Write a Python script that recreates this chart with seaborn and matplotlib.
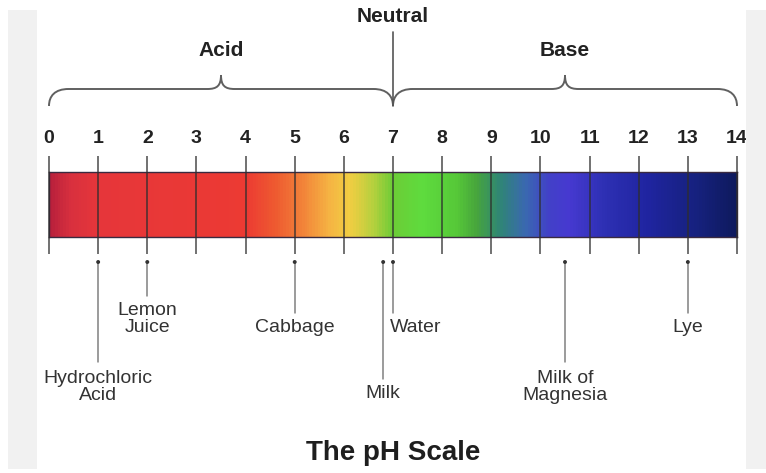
import numpy as np
import matplotlib
matplotlib.use("Agg")
import matplotlib.pyplot as plt
import seaborn as sns
from matplotlib.colors import LinearSegmentedColormap
from matplotlib.path import Path
from matplotlib.patches import PathPatch, Rectangle

# pH scale ticks
ph_ticks = list(range(0, 15))

# colour stops along the bar (pH, colour)
stop_ph = [0, 0.4, 1, 4, 4.6, 5.2, 5.7, 6.1, 6.6, 7.0, 7.6, 8.3, 8.7, 9.2, 9.7, 10.2, 10.6, 11.3, 12.2, 13.2, 14]
stop_colors = ['#b8203c', '#d8303e', '#e6363a', '#ec3a33', '#ee5a30', '#f2873a', '#f5b343',
               '#f2cd42', '#b6d03e', '#6ccc36', '#5edc3e', '#56c838', '#47a53c', '#2f8576',
               '#3a68b0', '#4240c8', '#4639d0', '#2e30b4', '#1f24a0', '#16217e', '#0e1a5e']

# substances: name, pH, label y (px from top), alignment
subst_names = ['Hydrochloric\nAcid', 'Lemon\nJuice', 'Cabbage', 'Milk', 'Water', 'Milk of\nMagnesia', 'Lye']
subst_ph = [1.0, 2.0, 5.0, 6.8, 7.0, 10.5, 13.0]
subst_line_end = [362, 296, 313, 379, 313, 362, 313]
subst_label_y = [387, 319, 327, 393, 327, 387, 327]
subst_ha = ['center', 'center', 'center', 'center', 'left', 'center', 'center']

W, H = 766, 473
X0, X1 = 49, 737           # pixel position of pH 0 and pH 14
unit = (X1 - X0) / 14.0
bar_top, bar_bot = 172, 237

sns.set_theme(style="white")
plt.rcParams['font.family'] = ['Liberation Sans', 'DejaVu Sans']

fig = plt.figure(figsize=(W / 100, H / 100), dpi=100)

# grey side borders
fig.patches.append(Rectangle((8 / W, 4 / H), 29 / W, 1 - 14 / H, transform=fig.transFigure,
                             facecolor='#f1f1f1', edgecolor='none', zorder=0))
fig.patches.append(Rectangle((746 / W, 4 / H), 20 / W, 1 - 14 / H, transform=fig.transFigure,
                             facecolor='#f1f1f1', edgecolor='none', zorder=0))

# colour bar drawn with seaborn heatmap
cmap = LinearSegmentedColormap.from_list('ph', list(zip(np.array(stop_ph) / 14, stop_colors)))
bar_ax = fig.add_axes([X0 / W, 1 - bar_bot / H, (X1 - X0) / W, (bar_bot - bar_top) / H])
grad = np.linspace(0, 14, 700).reshape(1, -1)
sns.heatmap(grad, cmap=cmap, vmin=0, vmax=14, cbar=False, xticklabels=False, yticklabels=False, ax=bar_ax)
for s in bar_ax.spines.values():
    s.set_visible(True)
    s.set_color('#3a2a40')
    s.set_linewidth(1.0)

ax = fig.add_axes([0, 0, 1, 1])
ax.set_facecolor('none')
ax.set_xlim(-X0 / unit, 14 + (W - X1) / unit)
ax.set_ylim(H, 0)
ax.axis('off')

# tick lines and numbers
for t in ph_ticks:
    ax.plot([t, t], [156, 254], color='#2e2e2e', lw=1.2, alpha=0.8, solid_capstyle='butt')
    ax.text(t, 138, str(t), ha='center', va='center', fontsize=14, fontweight='bold', color='#222222')


def brace(a, b, y_mid=89, y_end=106, y_tip=75):
    m = (a + b) / 2
    w = 0.4
    wm = 0.28
    verts = [(a, y_end), (a, 96), (a + w * 0.3, y_mid), (a + w, y_mid),
             (m - wm, y_mid),
             (m - wm * 0.3, y_mid), (m, 86), (m, y_tip),
             (m, 86), (m + wm * 0.3, y_mid), (m + wm, y_mid),
             (b - w, y_mid),
             (b - w * 0.3, y_mid), (b, 96), (b, y_end)]
    codes = [Path.MOVETO, Path.CURVE4, Path.CURVE4, Path.CURVE4, Path.LINETO,
             Path.CURVE4, Path.CURVE4, Path.CURVE4, Path.CURVE4, Path.CURVE4, Path.CURVE4,
             Path.LINETO, Path.CURVE4, Path.CURVE4, Path.CURVE4]
    ax.add_patch(PathPatch(Path(verts, codes), facecolor='none', edgecolor='#606060', lw=1.4))


brace(0, 7)
brace(7, 14)
ax.plot([7, 7], [32, 106], color='#555555', lw=1.2)
ax.text(7, 17, 'Neutral', ha='center', va='center', fontsize=15, fontweight='bold', color='#222222')
ax.text(3.5, 50, 'Acid', ha='center', va='center', fontsize=15, fontweight='bold', color='#222222')
ax.text(10.5, 50, 'Base', ha='center', va='center', fontsize=15, fontweight='bold', color='#222222')

# substances
for name, ph, y_end, y_lab, ha in zip(subst_names, subst_ph, subst_line_end, subst_label_y, subst_ha):
    ax.plot([ph, ph], [262, y_end], color='#808080', lw=1.1)
    x_lab = ph - 3 / unit if ha == 'left' else ph
    ax.text(x_lab, y_lab, name, ha=ha, va='center', fontsize=14, color='#333333',
            linespacing=0.95, multialignment='center')
sns.scatterplot(x=subst_ph, y=[262] * len(subst_ph), color='#333333', s=8, edgecolor='none', ax=ax, zorder=5)

ax.text(7, 453, 'The pH Scale', ha='center', va='center', fontsize=20, fontweight='bold', color='#1e1e1e')

fig.savefig('out.png', dpi=100)
